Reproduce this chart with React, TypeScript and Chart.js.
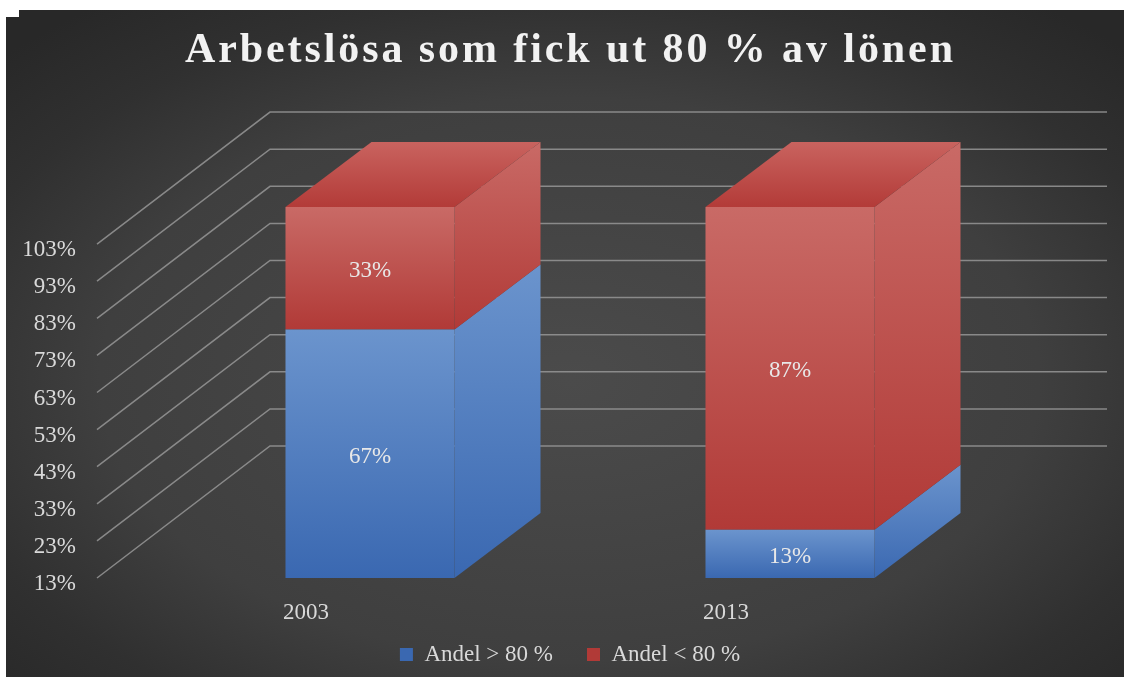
import React, { useEffect, useRef } from 'react';
import { Chart, registerables } from 'chart.js';

Chart.register(...registerables);

// ---------- data ----------
const categories = ['2003', '2013'];
const seriesLabels = ['Andel > 80 %', 'Andel < 80 %'];
const shareAbove80 = [67, 13];
const shareBelow80 = [33, 87];
const yTickLabels = ['13%', '23%', '33%', '43%', '53%', '63%', '73%', '83%', '93%', '103%'];
const chartTitle = 'Arbetslösa som fick ut 80 % av lönen';

// ---------- style ----------
const FONT = "'Liberation Serif', 'Times New Roman', serif";
const W = 1124;
const H = 677;
const BG_LEFT = 6;
const BG_TOP = 10;
const BAR_DEPTH = { dx: 86, dy: -65 };
const WALL_DEPTH = { dx: 173, dy: -132 };
const WALL_LEFT_INSET = 63;
const WALL_RIGHT_EXT = 107;
const TITLE_CX = 569;
const TITLE_WIDTH = 768;
const TITLE_BASELINE = 62;

type FaceColors = { solid: string; top: string; bottom: string; lidBack: string; lidFront: string };
const BLUE: FaceColors = { solid: '#4a78bd', top: '#6b94cd', bottom: '#3a68b1', lidBack: '#6b94cd', lidFront: '#4a78bd' };
const RED: FaceColors = { solid: '#c0504d', top: '#c96a66', bottom: '#b13a37', lidBack: '#c9635f', lidFront: '#b33b38' };
const seriesColors = [BLUE, RED];

function frontFill(colors: FaceColors) {
  return (c: any) => {
    if (c.type !== 'data') return colors.solid;
    const chart = c.chart;
    const ys = chart.scales && chart.scales.y;
    if (!ys) return colors.solid;
    let start = 0;
    for (let d = 0; d < c.datasetIndex; d++) start += chart.data.datasets[d].data[c.dataIndex];
    const end = start + chart.data.datasets[c.datasetIndex].data[c.dataIndex];
    const y0 = ys.getPixelForValue(end);
    const y1 = ys.getPixelForValue(start);
    if (!isFinite(y0) || !isFinite(y1) || y0 === y1) return colors.solid;
    const g = chart.ctx.createLinearGradient(0, y0, 0, y1);
    g.addColorStop(0, colors.top);
    g.addColorStop(1, colors.bottom);
    return g;
  };
}

const threeDPlugin = {
  id: 'threeD',
  afterLayout(chart: any) {
    // let the category labels extend below the (thin) x-axis box without clipping
    const xs = chart.scales.x;
    if (xs) xs.bottom = chart.height;
  },
  beforeDraw(chart: any) {
    const { ctx, width, height } = chart;
    ctx.save();
    ctx.fillStyle = '#ffffff';
    ctx.fillRect(0, 0, width, height);
    // background: elliptical radial gradient
    ctx.save();
    ctx.beginPath();
    ctx.rect(BG_LEFT, BG_TOP, width - BG_LEFT, height - BG_TOP);
    ctx.clip();
    ctx.translate(570, 380);
    ctx.scale(1 / 0.6, 1);
    const g = ctx.createRadialGradient(0, 0, 0, 0, 0, 470);
    g.addColorStop(0, '#4b4b4b');
    g.addColorStop(0.6, '#3f3f3f');
    g.addColorStop(0.82, '#303030');
    g.addColorStop(1, '#282828');
    ctx.fillStyle = g;
    ctx.fillRect(-1000, -1000, 2000, 2000);
    ctx.restore();
    ctx.fillStyle = '#ffffff';
    ctx.fillRect(BG_LEFT, BG_TOP, 13, 7);

    // title, letter-spaced
    ctx.font = `bold 42px ${FONT}`;
    ctx.fillStyle = '#f2f2f2';
    ctx.textBaseline = 'alphabetic';
    ctx.textAlign = 'left';
    const chars = Array.from(chartTitle);
    const widths = chars.map((ch) => ctx.measureText(ch).width);
    const natural = widths.reduce((a, b) => a + b, 0);
    const spacing = (TITLE_WIDTH - natural) / (chars.length - 1);
    let x = TITLE_CX - TITLE_WIDTH / 2;
    chars.forEach((ch, i) => {
      ctx.fillText(ch, x, TITLE_BASELINE);
      x += widths[i] + spacing;
    });
    ctx.restore();
  },
  beforeDatasetsDraw(chart: any) {
    const { ctx, chartArea } = chart;
    const ys = chart.scales.y;
    ctx.save();
    // perspective gridlines (side wall + back wall)
    ctx.strokeStyle = 'rgba(150,150,150,0.85)';
    ctx.lineWidth = 1.5;
    const x0 = chartArea.left - WALL_LEFT_INSET;
    const xEnd = chartArea.right + WALL_RIGHT_EXT;
    ys.ticks.forEach((t: any, i: number) => {
      if (i >= yTickLabels.length) return;
      const py = ys.getPixelForValue(t.value);
      ctx.beginPath();
      ctx.moveTo(x0, py);
      ctx.lineTo(x0 + WALL_DEPTH.dx, py + WALL_DEPTH.dy);
      ctx.lineTo(xEnd, py + WALL_DEPTH.dy);
      ctx.stroke();
    });
    // side and top faces of the bars
    const last = chart.data.datasets.length - 1;
    chart.data.datasets.forEach((ds: any, di: number) => {
      const meta = chart.getDatasetMeta(di);
      const colors = seriesColors[di];
      meta.data.forEach((el: any) => {
        const { x, y, base, width } = el.getProps(['x', 'y', 'base', 'width'], true);
        const top = Math.min(y, base);
        const bottom = Math.max(y, base);
        const r = x + width / 2;
        const l = x - width / 2;
        const sg = ctx.createLinearGradient(0, top + BAR_DEPTH.dy, 0, bottom);
        sg.addColorStop(0, colors.top);
        sg.addColorStop(1, colors.bottom);
        ctx.fillStyle = sg;
        ctx.beginPath();
        ctx.moveTo(r, top);
        ctx.lineTo(r + BAR_DEPTH.dx, top + BAR_DEPTH.dy);
        ctx.lineTo(r + BAR_DEPTH.dx, bottom + BAR_DEPTH.dy);
        ctx.lineTo(r, bottom);
        ctx.closePath();
        ctx.fill();
        if (di === last) {
          const tg = ctx.createLinearGradient(0, top + BAR_DEPTH.dy, 0, top);
          tg.addColorStop(0, colors.lidBack);
          tg.addColorStop(1, colors.lidFront);
          ctx.fillStyle = tg;
          ctx.beginPath();
          ctx.moveTo(l, top);
          ctx.lineTo(r, top);
          ctx.lineTo(r + BAR_DEPTH.dx, top + BAR_DEPTH.dy);
          ctx.lineTo(l + BAR_DEPTH.dx, top + BAR_DEPTH.dy);
          ctx.closePath();
          ctx.fill();
        }
      });
    });
    ctx.restore();
  },
  afterDatasetsDraw(chart: any) {
    const { ctx } = chart;
    ctx.save();
    ctx.font = `23px ${FONT}`;
    ctx.fillStyle = '#e8e8e8';
    ctx.textAlign = 'center';
    ctx.textBaseline = 'middle';
    chart.data.datasets.forEach((ds: any, di: number) => {
      const meta = chart.getDatasetMeta(di);
      meta.data.forEach((el: any, i: number) => {
        const { x, y, base } = el.getProps(['x', 'y', 'base'], true);
        ctx.fillText(`${ds.data[i]}%`, x, (y + base) / 2 + 3);
      });
    });
    ctx.restore();
  },
};

export default function App() {
  const canvasRef = useRef<HTMLCanvasElement | null>(null);

  useEffect(() => {
    document.body.style.margin = '0';
    const canvas = canvasRef.current;
    if (!canvas) return;
    const chart = new Chart(canvas, {
      type: 'bar',
      data: {
        labels: categories,
        datasets: [
          {
            label: seriesLabels[0],
            data: shareAbove80,
            backgroundColor: frontFill(BLUE),
            borderWidth: 0,
            barPercentage: 0.4024,
            categoryPercentage: 1,
          },
          {
            label: seriesLabels[1],
            data: shareBelow80,
            backgroundColor: frontFill(RED),
            borderWidth: 0,
            barPercentage: 0.4024,
            categoryPercentage: 1,
          },
        ],
      },
      options: {
        responsive: true,
        maintainAspectRatio: false,
        animation: false,
        events: [],
        layout: { padding: { top: 207, left: 16, right: 0, bottom: 1 } },
        plugins: {
          title: { display: false },
          tooltip: { enabled: false },
          legend: {
            display: true,
            position: 'bottom',
            labels: {
              color: '#d9d9d9',
              font: { family: FONT, size: 23 },
              boxWidth: 13,
              boxHeight: 13,
              padding: 34,
            },
          },
        },
        scales: {
          x: {
            stacked: true,
            offset: true,
            grid: { display: false, drawTicks: false },
            border: { display: false },
            ticks: {
              color: '#d9d9d9',
              font: { family: FONT, size: 23 },
              padding: 21,
              labelOffset: -64,
              maxRotation: 0,
            },
            afterFit: (s: any) => {
              s.height = 31;
            },
          },
          y: {
            stacked: true,
            min: 0,
            max: 100,
            grid: { display: false, drawTicks: false },
            border: { display: false },
            ticks: {
              stepSize: 10,
              color: '#d9d9d9',
              font: { family: FONT, size: 23 },
              padding: 84,
              labelOffset: 6,
              callback: (value: any) => {
                const idx = Math.round(Number(value) / 10);
                return idx < yTickLabels.length ? yTickLabels[idx] : null;
              },
            },
            afterFit: (s: any) => {
              s.width = 144;
            },
          },
          y2: {
            position: 'right',
            display: true,
            grid: { display: false, drawTicks: false },
            border: { display: false },
            ticks: { display: false },
            afterFit: (s: any) => {
              s.width = 124;
            },
          },
        },
      },
      plugins: [threeDPlugin],
    } as any);
    return () => chart.destroy();
  }, []);

  return (
    <div style={{ position: 'relative', width: W, height: H }}>
      <canvas ref={canvasRef} />
    </div>
  );
}
